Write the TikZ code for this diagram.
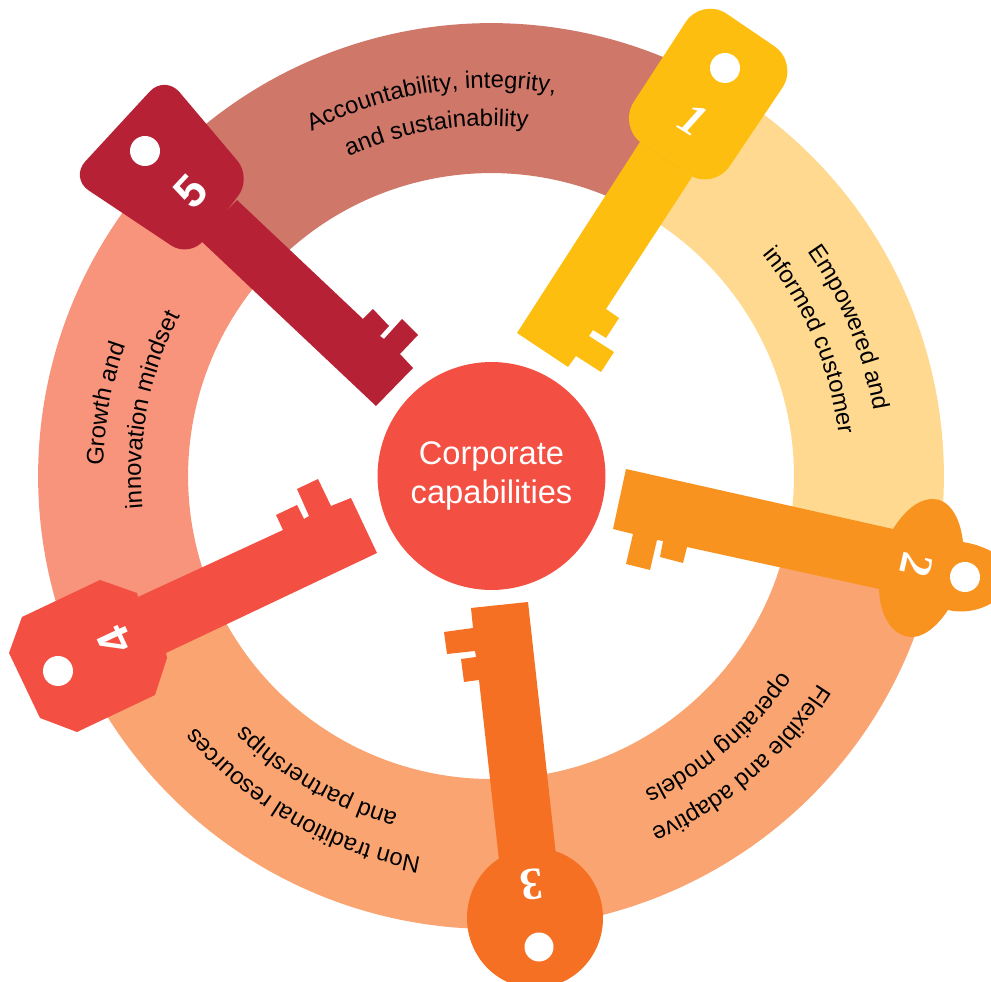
\documentclass[tikz,border=0pt]{standalone}
\usepackage{fontspec}
\setmainfont{Liberation Sans}
\newfontfamily\numserif{Liberation Serif}
\usetikzlibrary{decorations.text}
\definecolor{ringrose}{HTML}{CF7769}
\definecolor{ringyellow}{HTML}{FFD98F}
\definecolor{ringorange}{HTML}{FAA571}
\definecolor{ringsalmon}{HTML}{F7947B}
\definecolor{keyone}{HTML}{FEBE10}
\definecolor{keytwo}{HTML}{F99320}
\definecolor{keythree}{HTML}{F57023}
\definecolor{keyfour}{HTML}{F34F42}
\definecolor{keyfive}{HTML}{B72135}
\newcommand{\ringfont}{\fontsize{13.6}{16}\selectfont}
\newcommand{\ringseg}[3]{\draw[#3,line width=3cm] ([shift={(#1:7.56cm)}]ringc) arc[start angle=#1,end angle=#2,radius=7.56cm];}
\newcommand{\ringtext}[3]{\path[decorate,decoration={text along path,text={|\ringfont|#3},text align=center}]
  ([shift={(#1+70:#2)}]ringc) arc[start angle=#1+70,end angle=#1-70,radius=#2];}
\tikzset{
  keyhole/.style={fill=white},
  keynum/.style={text=white,font=\fontsize{26}{26}\selectfont\bfseries,inner sep=0pt}
}
\begin{document}
\begin{tikzpicture}[x=0.02cm,y=-0.02cm]
  \useasboundingbox (0,0) rectangle (991,982);
  \clip (0,0) rectangle (991,982);
  \coordinate (ringc) at (491,476);
  \ringseg{136.6}{58.5}{ringrose}
  \ringseg{58.5}{-14.7}{ringyellow}
  \ringseg{-14.7}{-153}{ringorange}
  \ringseg{207}{136.6}{ringsalmon}
  \ringtext{99}{7.76cm}{Accountability, integrity,}
  \ringtext{99}{7.0cm}{and sustainability}
  \ringtext{22.5}{7.76cm}{Empowered and}
  \ringtext{23}{7.0cm}{informed customer}
  \ringtext{-49}{7.76cm}{Flexible and adaptive}
  \ringtext{-49}{7.0cm}{operating models}
  \ringtext{240}{7.76cm}{Non traditional resources}
  \ringtext{240}{7.0cm}{and partnerships}
  \ringtext{169.4}{7.76cm}{Growth and}
  \ringtext{169}{7.0cm}{innovation mindset}
  \fill[keyone,rounded corners=0.6cm] (702,-3) -- (799,63) -- (713,191) -- (617.5,127) -- cycle;
  \fill[keyone] (517,333) -- (568,367) -- (576,356) -- (601,372) -- (614,352) -- (589,336) -- (593,330)
    -- (606,338) -- (619,318) -- (606,309) -- (692,177) -- (640,142) -- cycle;
  \fill[keytwo] (626,469) -- (613,529) -- (633,534) -- (626,564) -- (650,570) -- (657,540) -- (663,541)
    -- (660,557) -- (683,563) -- (687,547) -- (879,589)
    .. controls (880,620) and (895,637) .. (912,637) .. controls (925,637) and (938,625) .. (948,610)
    .. controls (965,614) and (985,610) .. (1000,597) -- (1000,557)
    .. controls (988,548) and (975,544) .. (963,542) .. controls (960,515) and (948,499) .. (933,499)
    .. controls (917,499) and (903,513) .. (893,529) -- cycle;
  \fill[keythree] (528,602) -- (471,608) -- (473,628) -- (444,632) -- (447,654) -- (475,651) -- (476,657)
    -- (461,659) -- (464,682) -- (479,680) -- (499,860) -- (556,855) -- cycle;
  \fill[keythree] (535,918) ellipse[x radius=68,y radius=70];
  \fill[keyfour] (377,553) -- (351,498) -- (331,506) -- (318,479) -- (297,489) -- (309,516) -- (304,519)
    -- (297,505) -- (276,515) -- (283,530) -- (138,597) -- (137,593) -- (100,580) -- (22,617) -- (9,653)
    -- (40,718) -- (77,732) -- (155,695) -- (167,658) -- (166,653) -- cycle;
  \fill[keyfive,rounded corners=0.45cm] (165,75) -- (252,178) -- (190,258) -- (70,178) -- cycle;
  \fill[keyfive] (376,406) -- (413,368) -- (400,354) -- (418,335) -- (402,319) -- (384,339) -- (380,336)
    -- (389,326) -- (373,309) -- (363,319) -- (237,200) -- (199,239) -- cycle;
  \fill[keyhole] (725,68) circle[radius=15];
  \fill[keyhole] (965,577) circle[radius=15];
  \fill[keyhole] (539,947) circle[radius=14.5];
  \fill[keyhole] (58,671) circle[radius=15];
  \fill[keyhole] (145,151) circle[radius=15];
  \node[keynum,rotate=-32] (num1) at (693,120) {\numserif\itshape 1};
  \node[keynum,rotate=-103] (num2) at (917,565) {\numserif 2};
  \node[keynum,rotate=-174] (num3) at (532,885) {\numserif 3};
  \node[keynum,rotate=115] (num4) at (115,641) {4};
  \node[keynum,rotate=47] (num5) at (191,192) {5};
  \node[circle,fill=keyfour,minimum size=4.56cm,inner sep=0pt,align=center,text=white,
    font=\fontsize{18.6}{22.7}\selectfont] (hub) at (491.5,476) {Corporate\\capabilities};
\end{tikzpicture}
\end{document}
